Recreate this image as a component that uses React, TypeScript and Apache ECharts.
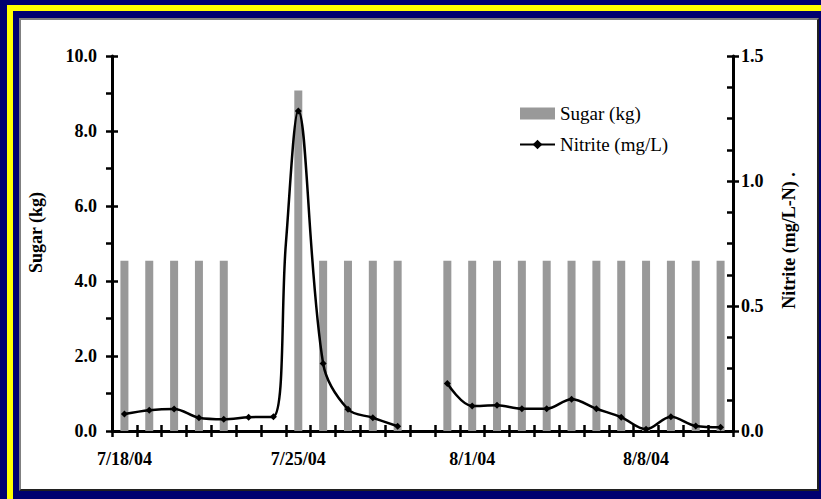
import React, { useEffect, useRef } from "react";
import * as echarts from "echarts";

// Days on the x axis (one category per day)
const days = [
  "7/18/04", "7/19/04", "7/20/04", "7/21/04", "7/22/04", "7/23/04", "7/24/04",
  "7/25/04", "7/26/04", "7/27/04", "7/28/04", "7/29/04", "7/30/04", "7/31/04",
  "8/1/04", "8/2/04", "8/3/04", "8/4/04", "8/5/04", "8/6/04", "8/7/04",
  "8/8/04", "8/9/04", "8/10/04", "8/11/04",
];

// Sugar added per day (kg); null = no sugar that day
const sugarKg = [
  4.54, 4.54, 4.54, 4.54, 4.54, null, null,
  9.08, 4.54, 4.54, 4.54, 4.54, null, 4.54,
  4.54, 4.54, 4.54, 4.54, 4.54, 4.54, 4.54,
  4.54, 4.54, 4.54, 4.54,
];

// Nitrite sampling times, in days from the start of 7/18/04 (0.5 = midday)
const nitriteDay = [
  0.5, 1.5, 2.5, 3.5, 4.5, 5.5, 6.5, 7.0, 7.5, 8.5, 9.5, 10.5, 11.5,
  12.5, 13.5, 14.5, 15.5, 16.5, 17.5, 18.5, 19.5, 20.5, 21.5, 22.5, 23.5, 24.5,
];
// Nitrite (mg/L-N); null = no sample
const nitriteMgL = [
  0.068, 0.083, 0.088, 0.053, 0.047, 0.055, 0.057, 0.75, 1.28, 0.27, 0.087, 0.053, 0.019,
  null, 0.19, 0.1, 0.103, 0.089, 0.089, 0.127, 0.089, 0.055, 0.007, 0.057, 0.02, 0.015,
];
// Sample points drawn without a marker
const hiddenMarkerDays = [7.0];

const leftTicks = { min: 0, max: 10, interval: 2 };
const rightTicks = { min: 0, max: 1.5, interval: 0.5 };

const FONT = "'Liberation Serif', 'Times New Roman', serif";

export default function App() {
  const ref = useRef<HTMLDivElement>(null);

  useEffect(() => {
    if (!ref.current) return;
    const chart = echarts.init(ref.current, null, { renderer: "svg" });

    const axisLine = { show: true, lineStyle: { color: "#000", width: 3 } };
    const tickStyle = { color: "#000", width: 2.5 };
    const labelStyle = {
      color: "#000",
      fontFamily: FONT,
      fontWeight: "bold" as const,
      fontSize: 18,
    };

    const lineData = nitriteDay.map((d, i) => {
      const v = nitriteMgL[i];
      if (v === null) return [d, "-"];
      if (hiddenMarkerDays.includes(d)) {
        return { value: [d, v], symbolSize: 0 };
      }
      return [d, v];
    });

    chart.setOption({
      animation: false,
      backgroundColor: "transparent",
      grid: { left: 112, right: 88, top: 56, bottom: 68, containLabel: false },
      legend: {
        orient: "vertical",
        left: 514,
        top: 99,
        itemWidth: 35,
        itemHeight: 12,
        itemGap: 12,
        textStyle: { color: "#000", fontFamily: FONT, fontSize: 19 },
        data: [
          { name: "Sugar (kg)", icon: "rect" },
          { name: "Nitrite (mg/L)" },
        ],
      },
      xAxis: [
        {
          type: "category",
          data: days,
          boundaryGap: true,
          position: "bottom",
          axisLine,
          axisTick: { show: true, interval: 0, length: 6, lineStyle: tickStyle },
          axisLabel: { ...labelStyle, interval: 6, margin: 19 },
          splitLine: { show: false },
        },
        {
          type: "category",
          data: days,
          boundaryGap: true,
          position: "bottom",
          axisLine: { show: false },
          axisTick: {
            show: true,
            interval: 0,
            inside: true,
            length: 6,
            lineStyle: tickStyle,
          },
          axisLabel: { show: false },
          splitLine: { show: false },
        },
        {
          type: "value",
          min: 0,
          max: days.length,
          show: false,
          splitLine: { show: false },
        },
      ],
      yAxis: [
        {
          type: "value",
          position: "left",
          ...leftTicks,
          name: "Sugar (kg)",
          nameLocation: "middle",
          nameRotate: 90,
          nameGap: 67,
          nameTextStyle: { ...labelStyle, padding: [0, 0, 0, 22] },
          axisLine,
          axisTick: { show: true, length: 6, lineStyle: tickStyle },
          minorTick: { show: true, splitNumber: 2, length: 6, lineStyle: tickStyle },
          axisLabel: {
            ...labelStyle,
            margin: 15,
            formatter: (v: number) => v.toFixed(1),
          },
          splitLine: { show: false },
        },
        {
          type: "value",
          position: "right",
          ...rightTicks,
          name: "Nitrite (mg/L-N) .",
          nameLocation: "middle",
          nameRotate: 90,
          nameGap: 47,
          nameTextStyle: { ...labelStyle, padding: [0, 0, 0, 6] },
          axisLine,
          axisTick: { show: true, length: 6, lineStyle: tickStyle },
          axisLabel: {
            ...labelStyle,
            margin: 8,
            formatter: (v: number) => v.toFixed(1),
          },
          splitLine: { show: false },
        },
        {
          type: "value",
          position: "left",
          ...leftTicks,
          axisLine: { show: false },
          axisTick: { show: true, inside: true, length: 6, lineStyle: tickStyle },
          axisLabel: { show: false },
          splitLine: { show: false },
        },
        {
          type: "value",
          position: "right",
          ...rightTicks,
          axisLine: { show: false },
          axisTick: { show: true, inside: true, length: 6, lineStyle: tickStyle },
          minorTick: { show: true, splitNumber: 4, length: 6, lineStyle: tickStyle },
          axisLabel: { show: false },
          splitLine: { show: false },
        },
      ],
      series: [
        {
          name: "Sugar (kg)",
          type: "bar",
          xAxisIndex: 0,
          yAxisIndex: 0,
          barWidth: 8,
          itemStyle: { color: "#999999" },
          data: sugarKg.map((v) => (v === null ? "-" : v)),
          z: 1,
        },
        {
          name: "Nitrite (mg/L)",
          type: "line",
          xAxisIndex: 2,
          yAxisIndex: 1,
          smooth: 0.35,
          connectNulls: false,
          symbol: "diamond",
          symbolSize: 7,
          showAllSymbol: true,
          lineStyle: { color: "#000", width: 2.5 },
          itemStyle: { color: "#000" },
          data: lineData,
          z: 3,
        },
      ],
    });

    return () => chart.dispose();
  }, []);

  return (
    <div
      style={{
        position: "absolute",
        left: 0,
        top: 0,
        width: 821,
        height: 499,
        background: "#000070",
        overflow: "hidden",
      }}
    >
      <div
        style={{
          position: "absolute",
          left: 7,
          top: 5,
          width: 840,
          height: 520,
          border: "6px solid #ffff00",
          boxSizing: "border-box",
        }}
      />
      <div
        style={{
          position: "absolute",
          left: 19,
          top: 18,
          width: 800,
          height: 473,
          background: "#ffffff",
          borderLeft: "2px solid #808080",
          borderTop: "2px solid #808080",
          borderRight: "2px solid #202020",
          borderBottom: "2px solid #202020",
          boxSizing: "border-box",
        }}
      />
      <div
        ref={ref}
        style={{ position: "absolute", left: 0, top: 0, width: 821, height: 499 }}
      />
    </div>
  );
}
